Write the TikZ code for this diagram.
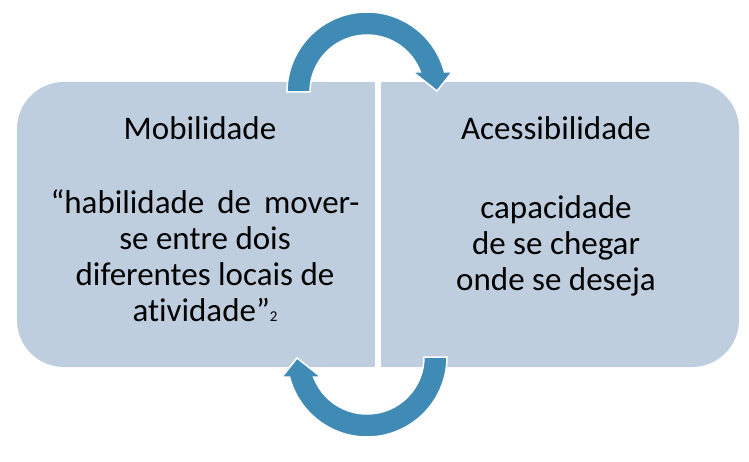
\documentclass[tikz,border=0pt]{standalone}
\usepackage{fontspec}
\setmainfont[Ligatures=NoCommon]{Carlito}
\definecolor{boxfill}{RGB}{191,206,222}
\definecolor{arrowblue}{RGB}{64,138,182}
\begin{document}
\begin{tikzpicture}[x=1pt,y=1pt,
    ideabox/.style={fill=boxfill,rounded corners=47pt,minimum width=358pt,minimum height=285pt,inner sep=0pt},
    boxtext/.style={font=\fontsize{33}{36}\selectfont,align=center,inner sep=0pt},
    cyclearrow/.pic={\filldraw[fill=arrowblue,draw=white,line width=1.5pt]
      (-80,0) arc[start angle=180,end angle=14.48,radius=80pt] -- (85,20) -- (70,1) -- (46,20)
      -- (53.38,20) arc[start angle=20.54,end angle=180,radius=57pt] -- cycle;}]
    \useasboundingbox (0,0) rectangle (749,461);
    \node[ideabox] (mob) at (196,236.5) {};
    \node[ideabox] (acc) at (560,236.5) {};
    \fill[boxfill] (mob.north) rectangle (mob.south east);
    \fill[boxfill] (acc.north west) rectangle (acc.south);
    \node[boxtext,anchor=base] (mobtitle) at (200,321) {Mobilidade};
    \node[boxtext] (mobtext) at (205,205) {“habilidade\ \,de\ \,mover-\\se entre dois\\diferentes locais de\\atividade”{\fontsize{15}{15}\selectfont 2}};
    \node[boxtext,anchor=base] (acctitle) at (556,321) {Acessibilidade};
    \node[boxtext] (acctext) at (556,215) {capacidade\\de se chegar\\onde se deseja};
    \coordinate (topturn) at (367,369);
    \coordinate (botturn) at (367,104);
    \pic at (topturn) {cyclearrow};
    \pic[rotate=180] at (botturn) {cyclearrow};
  \end{tikzpicture}
\end{document}
